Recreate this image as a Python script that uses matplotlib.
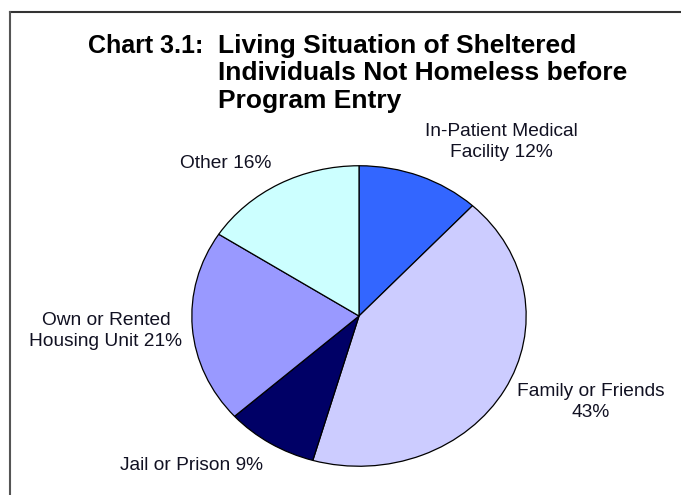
import matplotlib.pyplot as plt
from matplotlib.lines import Line2D

plt.rcParams['font.family'] = ['Liberation Sans', 'DejaVu Sans']

# Living situation shares (%), clockwise from 12 o'clock
categories = [
    "In-Patient Medical\nFacility",
    "Family or Friends\n",
    "Jail or Prison",
    "Own or Rented\nHousing Unit",
    "Other",
]
shares = [12, 43, 9, 21, 16]
colors = ["#3366FF", "#CCCCFF", "#000066", "#9999FF", "#CCFFFF"]

W, H = 681, 495
fig = plt.figure(figsize=(W / 100, H / 100), dpi=100)

# pie is drawn slightly wider than tall, like the source
left, right, top, bottom = 191, 527, 165, 467
ax = fig.add_axes([left / W, 1 - bottom / H, (right - left) / W, (bottom - top) / H])
ax.pie(shares, colors=colors, startangle=90, counterclock=False,
       wedgeprops=dict(edgecolor="black", linewidth=0.9))
ax.set_aspect("auto")
ax.set_xlim(-1.005, 1.005)
ax.set_ylim(-1.005, 1.005)
ax.axis("off")

# labels, in pixel positions of the figure
label_pos = [(501, 142), (591, 402), (191, 465), (106, 331), (226, 164)]
for name, val, (px, py) in zip(categories, shares, label_pos):
    text = name.rstrip("\n")
    if name.endswith("\n"):
        text = text + f"\n{val}%"
    else:
        text = text + f" {val}%"
    fig.text(px / W, 1 - py / H, text, ha="center", va="center",
             fontsize=13.8, color="#111122", linespacing=1.3)

# title
title_lines = ["Living Situation of Sheltered",
               "Individuals Not Homeless before",
               "Program Entry"]
fig.text(88 / W, 1 - 53 / H, "Chart 3.1:", ha="left", va="baseline",
         fontsize=18, fontweight="bold")
for i, line in enumerate(title_lines):
    fig.text(218 / W, 1 - (53 + 27.5 * i) / H, line, ha="left", va="baseline",
             fontsize=19, fontweight="bold")

# frame around the chart (top and left edges visible)
fig.add_artist(Line2D([10 / W, 1], [1 - 12 / H, 1 - 12 / H], color="#333333", lw=1.5))
fig.add_artist(Line2D([10 / W, 10 / W], [0, 1 - 12 / H], color="#555555", lw=1.5))

fig.savefig("out.png", dpi=100)
